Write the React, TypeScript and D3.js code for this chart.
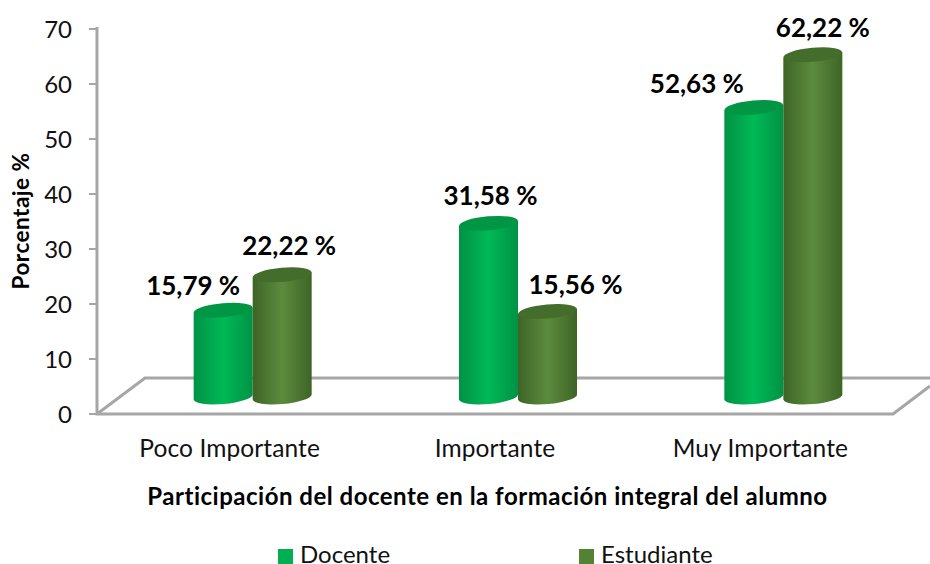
import React from "react";
import * as d3 from "d3";

const categories = ["Poco Importante", "Importante", "Muy Importante"];
const seriesNames = ["Docente", "Estudiante"];
const docente = [15.79, 31.58, 52.63];
const estudiante = [22.22, 15.56, 62.22];
const yTicks = [0, 10, 20, 30, 40, 50, 60, 70];
const yTitle = "Porcentaje %";
const xTitle = "Participación del docente en la formación integral del alumno";

const FONT = "Lato, 'Open Sans', sans-serif";
const GRAY = "#a6a6a6";
const W = 930, H = 564;
const x0 = 97, x1 = 893, y0 = 414, yTop = 29;
const depthX = 48, depthY = 36;
const baseLift = 17;

const x = d3.scaleBand<string>().domain(categories).range([x0, x1]);
const y = d3.scaleLinear().domain([0, 70]).range([y0, yTop]);
const inner = d3.scaleBand<string>().domain(seriesNames).range([-59, 59]);

const palette = [
  { id: "g0", edge: "#009245", mid: "#00b956", top: "#009643" },
  { id: "g1", edge: "#3e6426", mid: "#5c8b3e", top: "#446d2b" },
];
const seriesValues = [docente, estudiante];
// label placement relative to the top of each cylinder [dx, dy]
const labelShift = [
  [[-30, -15], [7, -20]],
  [[2, -18], [28, -17]],
  [[-57, -15], [10, -18]],
];
const fmt = (v: number) => v.toFixed(2).replace(".", ",") + " %";

export default function App() {
  const rx = inner.bandwidth() / 2, ry = 7, tilt = 2.6;
  return (
    <svg width={W} height={H} viewBox={`0 0 ${W} ${H}`} style={{ position: "absolute", left: 0, top: 0, display: "block" }} fontFamily={FONT}>
      <defs>
        {palette.map((p) => (
          <linearGradient key={p.id} id={p.id} x1="0" x2="1" y1="0" y2="0">
            <stop offset="0" stopColor={p.edge} />
            <stop offset="0.5" stopColor={p.mid} />
            <stop offset="1" stopColor={p.edge} />
          </linearGradient>
        ))}
        <filter id="soft" x="-5%" y="-5%" width="110%" height="110%">
          <feGaussianBlur stdDeviation="0.5" />
        </filter>
      </defs>
      <g stroke={GRAY} strokeWidth={3} fill="none" filter="url(#soft)">
        <path d={`M${x0},${yTop - 2}V${y0}H${x1}L${W},${y0 - 28}`} />
        <path d={`M${x0},${y0}L${x0 + depthX},${y0 - depthY}H${W}`} />
        {yTicks.map((t) => (
          <line key={t} x1={x0 - 8} x2={x0} y1={y(t)} y2={y(t)} strokeWidth={2} />
        ))}
      </g>
      {yTicks.map((t) => (
        <text key={t} x={x0 - 25} y={y(t) + 8.5} textAnchor="end" fontSize={24} fill="#111">{t}</text>
      ))}
      <text transform={`translate(29,221) rotate(-90)`} textAnchor="middle" fontSize={22.5} letterSpacing={0.5} fontWeight={700} fill="#000">{yTitle}</text>
      {categories.map((c, ci) => {
        const center = (x(c) as number) + x.bandwidth() / 2 + depthX / 2 - 1;
        return (
          <g key={c}>
            {seriesNames.map((s, si) => {
              const v = seriesValues[si][ci];
              const cx = center + (inner(s) as number) + rx;
              const yB = y0 - baseLift;
              const yT = y(v) - baseLift;
              const l = cx - rx, r = cx + rx;
              const body = `M${l},${yT + tilt}L${l},${yB + tilt}A${rx},${ry} -5 0 0 ${r},${yB - tilt}L${r},${yT - tilt}Z`;
              return (
                <g key={s}>
                  <path d={body} fill={`url(#${palette[si].id})`} />
                  <ellipse cx={cx} cy={yT} rx={rx} ry={ry} transform={`rotate(-5 ${cx} ${yT})`} fill={palette[si].top} />
                </g>
              );
            })}
            <text x={(x(c) as number) + x.bandwidth() / 2} y={457} textAnchor="middle" fontSize={24.5} letterSpacing={0.1} fill="#111">{c}</text>
          </g>
        );
      })}
      {categories.map((c, ci) => {
        const center = (x(c) as number) + x.bandwidth() / 2 + depthX / 2 - 1;
        return seriesNames.map((s, si) => {
          const v = seriesValues[si][ci];
          const cx = center + (inner(s) as number) + rx;
          const [dx, dy] = labelShift[ci][si];
          return (
            <text key={s} x={cx + dx} y={y(v) - baseLift + dy} textAnchor="middle" fontSize={26} fontWeight={700} fill="#000">{fmt(v)}</text>
          );
        });
      })}
      <text x={487.5} y={505} textAnchor="middle" fontSize={24} letterSpacing={0.5} fontWeight={700} fill="#000">{xTitle}</text>
      {seriesNames.map((s, i) => {
        const lx = i === 0 ? 278 : 579;
        return (
          <g key={s}>
            <rect x={lx} y={549} width={15} height={15} fill={i === 0 ? "#00b050" : "#548235"} />
            <text x={lx + 22} y={563} fontSize={24} fill="#111">{s}</text>
          </g>
        );
      })}
    </svg>
  );
}
